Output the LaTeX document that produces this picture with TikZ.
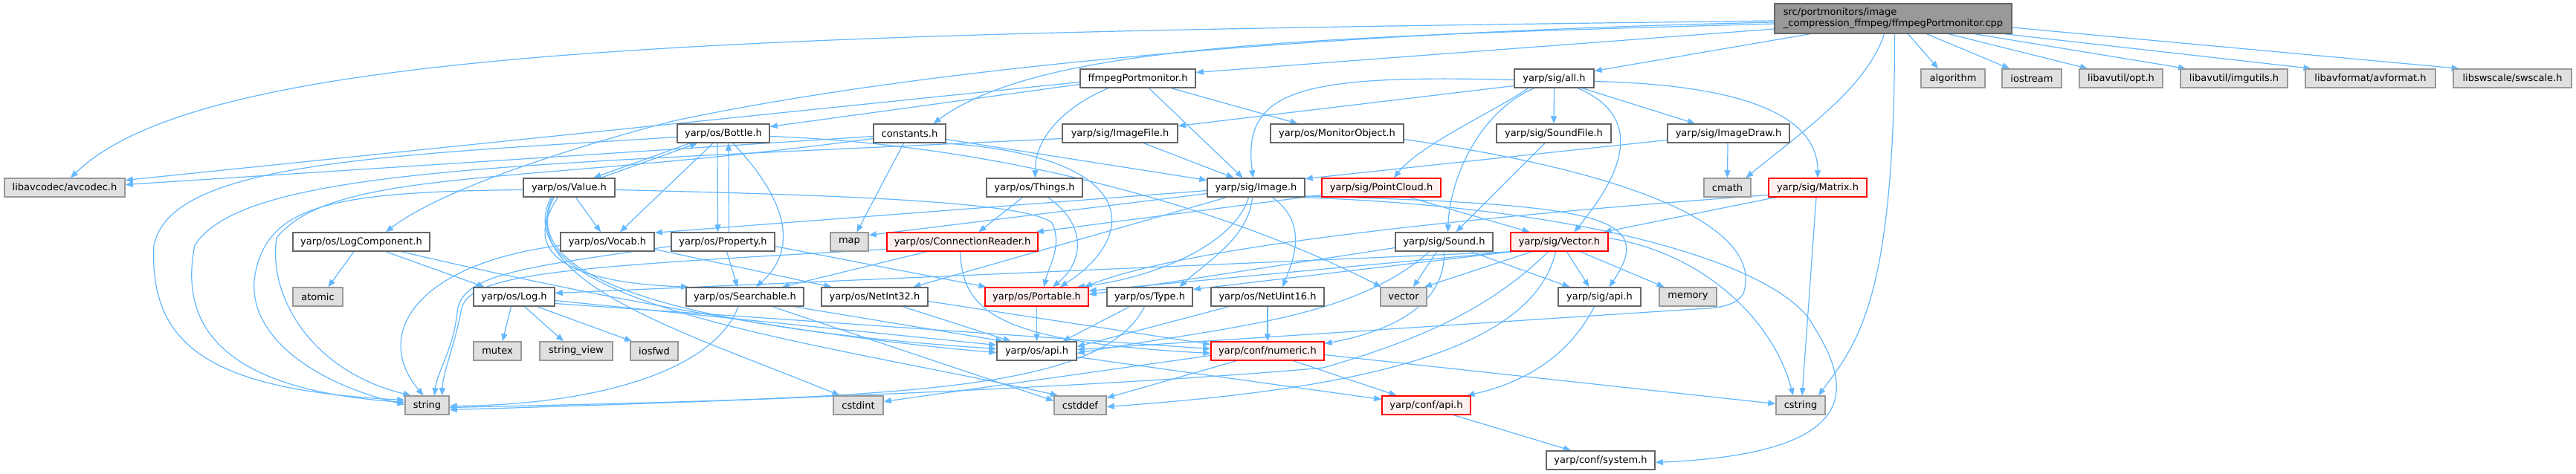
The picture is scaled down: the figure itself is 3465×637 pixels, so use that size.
\documentclass[tikz,border=0pt]{standalone}
\usepackage{fontspec}
\setmainfont{DejaVu Sans}
\usetikzlibrary{arrows.meta}
\definecolor{edgec}{HTML}{63B8FF}
\definecolor{wbord}{HTML}{666666}
\definecolor{gfill}{HTML}{E0E0E0}
\definecolor{gbord}{HTML}{999999}
\definecolor{rfill}{HTML}{FFF0F0}
\definecolor{rbord}{HTML}{FF0000}
\definecolor{mfill}{HTML}{999999}
\pgfdeclarelayer{bg}
\pgfsetlayers{bg,main}
\begin{document}
\begin{tikzpicture}[x=1pt,y=-1pt,
  box/.style={rectangle, line width=1.5pt, minimum height=25pt, inner sep=0pt, font=\fontsize{13}{15}\selectfont},
  wn/.style={box, draw=wbord, fill=white},
  gn/.style={box, draw=gbord, fill=gfill},
  rn/.style={box, draw=rbord, fill=rfill},
  e/.style={draw=edgec, line width=1.2pt, -{Triangle[length=10pt,width=8pt]}}]
\useasboundingbox (0,0) rectangle (3465,637);
% row 1
\node[box, draw=wbord, fill=mfill, minimum width=319pt, minimum height=40pt, align=left] (m) at (2546.5,25) {src/portmonitors/image\\\_compression\_ffmpeg/ffmpegPortmonitor.cpp};
% row 2
\node[wn, minimum width=155pt] (fh) at (1530.5,105.5) {ffmpegPortmonitor.h};
\node[wn, minimum width=107pt] (all) at (2090.5,105.5) {yarp/sig/all.h};
\node[gn, minimum width=86pt] (alg) at (2627,105.5) {algorithm};
\node[gn, minimum width=80pt] (ios) at (2733,105.5) {iostream};
\node[gn, minimum width=112pt] (opt) at (2853,105.5) {libavutil/opt.h};
\node[gn, minimum width=144pt] (imgu) at (3005,105.5) {libavutil/imgutils.h};
\node[gn, minimum width=175pt] (avf) at (3188.5,105.5) {libavformat/avformat.h};
\node[gn, minimum width=159pt] (sws) at (3379.5,105.5) {libswscale/swscale.h};
% row 3
\node[wn, minimum width=124pt] (b) at (973,179.5) {yarp/os/Bottle.h};
\node[wn, minimum width=97pt] (ch) at (1223.5,179.5) {constants.h};
\node[wn, minimum width=155pt] (ifile) at (1506.5,179.5) {yarp/sig/ImageFile.h};
\node[wn, minimum width=179pt] (mo) at (1798.5,179.5) {yarp/os/MonitorObject.h};
\node[wn, minimum width=154pt] (sf) at (2090,179.5) {yarp/sig/SoundFile.h};
\node[wn, minimum width=164pt] (id) at (2325,179.5) {yarp/sig/ImageDraw.h};
% row 4
\node[gn, minimum width=162pt] (avc) at (87,252.5) {libavcodec/avcodec.h};
\node[wn, minimum width=123pt] (v) at (765.5,252.5) {yarp/os/Value.h};
\node[wn, minimum width=129pt] (th) at (1391.5,252.5) {yarp/os/Things.h};
\node[wn, minimum width=131pt] (im) at (1689.5,252.5) {yarp/sig/Image.h};
\node[rn, minimum width=160pt] (pc) at (1858,252.5) {yarp/sig/PointCloud.h};
\node[gn, minimum width=63pt] (cm) at (2323.5,252.5) {cmath};
\node[rn, minimum width=132pt] (ma) at (2445,252.5) {yarp/sig/Matrix.h};
% row 5
\node[wn, minimum width=184pt] (lc) at (486,325.5) {yarp/os/LogComponent.h};
\node[wn, minimum width=126pt] (vo) at (817,325.5) {yarp/os/Vocab.h};
\node[wn, minimum width=139pt] (p) at (972.5,325.5) {yarp/os/Property.h};
\node[gn, minimum width=51pt] (map) at (1142.5,325.5) {map};
\node[rn, minimum width=203pt] (cr) at (1294.5,325.5) {yarp/os/ConnectionReader.h};
\node[wn, minimum width=131pt] (so) at (1942.5,325.5) {yarp/sig/Sound.h};
\node[rn, minimum width=131pt] (ve) at (2097.5,325.5) {yarp/sig/Vector.h};
% row 6
\node[gn, minimum width=67pt] (at) at (427.5,399.5) {atomic};
\node[wn, minimum width=109pt] (lg) at (691.5,399.5) {yarp/os/Log.h};
\node[wn, minimum width=158pt] (s) at (1002,399.5) {yarp/os/Searchable.h};
\node[wn, minimum width=143pt] (n32) at (1176.5,399.5) {yarp/os/NetInt32.h};
\node[rn, minimum width=139pt] (po) at (1394.5,399.5) {yarp/os/Portable.h};
\node[wn, minimum width=115pt] (ty) at (1546.5,399.5) {yarp/os/Type.h};
\node[wn, minimum width=152pt] (u16) at (1705,399.5) {yarp/os/NetUint16.h};
\node[gn, minimum width=62pt] (vec) at (1888,399.5) {vector};
\node[wn, minimum width=111pt] (sa) at (2151.5,399.5) {yarp/sig/api.h};
\node[gn, minimum width=77pt] (mem) at (2270.5,399.5) {memory};
% row 7
\node[gn, minimum width=64pt] (mx) at (669,472.5) {mutex};
\node[gn, minimum width=98pt] (sv) at (775,472.5) {string\_view};
\node[gn, minimum width=64pt] (iof) at (880,472.5) {iosfwd};
\node[wn, minimum width=107pt] (oa) at (1394.5,472.5) {yarp/os/api.h};
\node[rn, minimum width=152pt] (nu) at (1705,472.5) {yarp/conf/numeric.h};
% row 8
\node[gn, minimum width=59pt] (str) at (574.5,545.5) {string};
\node[gn, minimum width=67pt] (ci) at (1154.5,545.5) {cstdint};
\node[gn, minimum width=70pt] (cd) at (1453,545.5) {cstddef};
\node[rn, minimum width=119pt] (ca) at (1918.5,545.5) {yarp/conf/api.h};
\node[gn, minimum width=66pt] (cs) at (2422,545.5) {cstring};
% row 9
\node[wn, minimum width=146pt] (sy) at (2153,619.5) {yarp/conf/system.h};

\begin{pgfonlayer}{bg}
\fill[white] (0,0) rectangle (3465,637);
% main
\draw[e] ([yshift=-14pt]m.west) -- ([yshift=8pt]fh.east);
\draw[e] ([xshift=-112pt]m.south) -- ([yshift=10pt]all.east);
\draw[e] ([xshift=20pt]m.south) -- ([xshift=-20pt]alg.north);
\draw[e] ([xshift=45pt]m.south) -- ([xshift=-30pt]ios.north);
\draw[e] ([xshift=75pt]m.south) -- ([xshift=-45pt]opt.north);
\draw[e] ([xshift=110pt]m.south) -- ([xshift=-65pt]imgu.north);
\draw[e] ([xshift=150pt]m.south) -- ([xshift=-80pt]avf.north);
\draw[e] ([yshift=-12pt]m.east) -- ([xshift=-72pt]sws.north);
\draw[e] ([xshift=-12pt]m.south) .. controls (2510,120) and (2420,180) .. ([xshift=25pt]cm.north);
\draw[e] ([xshift=2pt]m.south) .. controls (2548.5,400) and (2500,460) .. ([xshift=24pt]cs.north);
\draw[e] ([yshift=-3pt]m.west) .. controls (1000,45) and (280,60) .. ([xshift=8pt]avc.north);
\draw[e] ([yshift=-5pt]m.west) .. controls (1700,45) and (1200,100) .. (905,163) .. controls (800,190) and (600,250) .. ([xshift=33pt]lc.north);
\draw[e] ([yshift=-7pt]m.west) .. controls (1750,50) and (1400,60) .. ([xshift=32pt]ch.north);
% ffmpegPortmonitor.h
\draw[e] ([yshift=-8pt]fh.west) -- ([yshift=9pt]b.east);
\draw[e] ([yshift=-5pt]fh.west) -- ([yshift=10pt]avc.east);
\draw[e] ([xshift=-40pt]fh.south) .. controls (1440,140) and (1392,180) .. ([xshift=1pt]th.north);
\draw[e] ([xshift=15pt]fh.south) -- ([xshift=-18pt]im.north);
\draw[e] ([xshift=45pt]fh.south) -- ([xshift=-53pt]mo.north);
% all.h
\draw[e] ([yshift=-10pt]all.west) -- ([yshift=10pt]ifile.east);
\draw[e] ([yshift=-2pt]all.west) .. controls (1750,100) and (1670,120) .. ([xshift=-4pt]im.north);
\draw[e] ([xshift=-35pt]all.south) .. controls (2010,150) and (1910,195) .. ([xshift=17pt]pc.north);
\draw[e] ([xshift=-27pt]all.south) .. controls (1990,150) and (1950,240) .. ([xshift=5pt]so.north);
\draw[e] (all.south) -- (sf.north);
\draw[e] ([xshift=38pt]all.south) -- ([xshift=-45pt]id.north);
\draw[e] ([xshift=32pt]all.south) .. controls (2230,165) and (2160,260) .. ([xshift=20pt]ve.north);
\draw[e] ([yshift=-4pt]all.east) .. controls (2380,115) and (2445,170) .. (ma.north);
% ImageFile
\draw[e] ([xshift=32pt]ifile.south) -- ([xshift=-30pt]im.north);
\draw[e] ([yshift=-7pt]ifile.west) .. controls (700,222) and (330,225) .. (262,330) .. controls (240,440) and (300,525) .. ([yshift=4pt]str.west);
% Bottle
\draw[e] ([xshift=-45pt]b.south) -- ([xshift=33pt]v.north);
\draw[e] ([xshift=-14pt]b.south) -- ([xshift=17pt]vo.north);
\draw[e] ([xshift=-8pt]b.south) -- ([xshift=-7pt]p.north);
\draw[e] ([xshift=13pt]b.south) .. controls (1050,260) and (1080,330) .. ([xshift=15pt]s.north);
\draw[e] ([yshift=-4pt]b.east) .. controls (1350,195) and (1650,280) .. ([xshift=-30pt]vec.north);
\draw[e] ([yshift=-5pt]b.west) .. controls (500,210) and (230,220) .. (207,330) .. controls (200,470) and (290,525) .. ([yshift=7pt]str.west);
% Value
\draw[e] ([xshift=43pt]v.north) -- ([xshift=-35pt]b.south);
\draw[e] ([xshift=9pt]v.south) -- ([xshift=-9pt]vo.north);
\draw[e] ([xshift=-15pt]v.south) .. controls (700,340) and (760,380) .. ([xshift=-76pt]s.north);
\draw[e] ([yshift=-3pt]v.east) .. controls (1100,262) and (1380,270) .. (1415,300) .. controls (1430,330) and (1410,360) .. ([xshift=10pt]po.north);
\draw[e] ([yshift=-3pt]v.west) .. controls (450,258) and (360,275) .. (343,370) .. controls (330,450) and (420,515) .. ([yshift=1pt]str.west);
\draw[e] ([xshift=-20.5pt]v.south) .. controls (690,370) and (900,440) .. ([yshift=3pt]oa.west);
\draw[e] ([xshift=-22.5pt]v.south) .. controls (690,380) and (930,450) .. ([xshift=-25pt]ci.north);
\draw[e] ([xshift=-24.5pt]v.south) .. controls (670,410) and (1100,460) .. ([xshift=-30pt]cd.north);
% Property
\draw[e] ([xshift=8pt]p.north) -- ([xshift=7pt]b.south);
\draw[e] ([xshift=5pt]p.south) -- ([xshift=-10pt]s.north);
\draw[e] ([yshift=-6pt]p.east) -- ([xshift=-68pt]po.north);
\draw[e] ([yshift=-6pt]p.west) .. controls (700,360) and (620,370) .. (615,420) .. controls (610,470) and (588,500) .. ([xshift=10pt]str.north);
% Vocab
\draw[e] ([yshift=-5pt]vo.west) .. controls (560,355) and (500,450) .. ([xshift=-5pt]str.north);
\draw[e] ([yshift=-10pt]vo.east) -- ([xshift=-58pt]n32.north);
% LogComponent
\draw[e] ([xshift=-10pt]lc.south) -- ([xshift=14pt]at.north);
\draw[e] ([xshift=33pt]lc.south) -- ([xshift=-40pt]lg.north);
\draw[e] ([xshift=54pt]lc.south) .. controls (800,400) and (1100,455) .. ([yshift=-2pt]oa.west);
% Log
\draw[e] ([xshift=-4pt]lg.south) -- ([xshift=7pt]mx.north);
\draw[e] ([xshift=14pt]lg.south) -- ([xshift=-17pt]sv.north);
\draw[e] ([xshift=31pt]lg.south) -- ([xshift=-30pt]iof.north);
\draw[e] ([yshift=-5pt]lg.east) -- ([yshift=8pt]oa.west);
\draw[e] ([yshift=-9pt]lg.east) -- ([yshift=3pt]nu.west);
% Searchable
\draw[e] ([xshift=-9pt]s.south) .. controls (960,500) and (800,545) .. ([yshift=-1pt]str.east);
\draw[e] ([xshift=66pt]s.south) -- ([xshift=-45pt]oa.north);
\draw[e] ([xshift=37pt]s.south) -- ([yshift=6pt]cd.west);
% NetInt32
\draw[e] ([xshift=38pt]n32.south) -- ([xshift=-35pt]oa.north);
\draw[e] ([yshift=-6pt]n32.east) -- ([yshift=9pt]nu.west);
% Portable
\draw[e] (po.south) -- (oa.north);
% Type
\draw[e] ([xshift=-27pt]ty.south) -- ([xshift=35pt]oa.north);
\draw[e] ([xshift=-7pt]ty.south) .. controls (1480,530) and (1200,535) .. ([yshift=-3pt]str.east);
% NetUint16
\draw[e] ([xshift=-52pt]u16.south) -- ([yshift=6pt]oa.east);
\draw[e] (u16.south) -- (nu.north);
% ConnectionReader
\draw[e] ([xshift=-48pt]cr.south) -- ([xshift=50pt]s.north);
\draw[e] ([xshift=-3pt]cr.south) .. controls (1295,420) and (1340,460) .. ([yshift=-3pt]nu.west);
\draw[e] ([yshift=-10pt]cr.west) .. controls (750,360) and (625,368) .. (620,420) .. controls (610,470) and (596,500) .. ([xshift=20pt]str.north);
% os/api.h
\draw[e] ([yshift=-8pt]oa.east) -- ([yshift=8pt]ca.west);
% numeric
\draw[e] ([xshift=35pt]nu.south) -- ([xshift=-40pt]ca.north);
\draw[e] ([xshift=-42pt]nu.south) -- ([yshift=10pt]cd.east);
\draw[e] ([yshift=-5pt]nu.east) -- ([yshift=2pt]cs.west);
\draw[e] ([yshift=-6pt]nu.west) -- ([yshift=5pt]ci.east);
% conf/api.h
\draw[e] ([xshift=37pt]ca.south) -- ([xshift=-40pt]sy.north);
% sig/api.h
\draw[e] ([xshift=-7pt]sa.south) .. controls (2110,480) and (2050,515) .. ([xshift=55pt]ca.north);
% Sound
\draw[e] ([xshift=-10pt]so.south) -- ([xshift=13pt]vec.north);
\draw[e] ([xshift=36pt]so.south) -- ([xshift=-40pt]sa.north);
\draw[e] (so.south) .. controls (1945,420) and (1850,450) .. ([yshift=10pt]nu.east);
\draw[e] ([yshift=-8pt]so.west) -- ([yshift=3pt]po.east);
\draw[e] ([xshift=-20pt]so.south) .. controls (1820,430) and (1650,440) .. ([yshift=-3pt]oa.east);
% Vector
\draw[e] ([xshift=-37pt]ve.south) -- ([xshift=28pt]vec.north);
\draw[e] ([xshift=10pt]ve.south) -- ([xshift=-14pt]sa.north);
\draw[e] ([xshift=28pt]ve.south) -- ([xshift=-32pt]mem.north);
\draw[e] ([yshift=5pt]ve.east) .. controls (2290,340) and (2385,430) .. ([xshift=-10pt]cs.north);
\draw[e] ([xshift=2pt]ve.south west) -- ([yshift=5pt]lg.east);
\draw[e] ([xshift=2pt]ve.south west) -- ([yshift=8pt]po.east);
\draw[e] ([xshift=2pt]ve.south west) -- ([yshift=10pt]ty.east);
\draw[e] ([xshift=-15pt]ve.south) .. controls (2000,420) and (1900,460) .. (1780,495) .. controls (1500,520) and (1000,540) .. ([yshift=-6pt]str.east);
\draw[e] ([xshift=-5pt]ve.south) .. controls (2060,480) and (1800,525) .. ([yshift=-2pt]cd.east);
% Image
\draw[e] ([yshift=-4pt]im.west) -- ([yshift=-1pt]vo.north east);
\draw[e] ([yshift=-8pt]im.west) -- ([yshift=9pt]map.east);
\draw[e] ([xshift=-40pt]im.south) -- ([xshift=52pt]n32.north);
\draw[e] ([xshift=-10pt]im.south) .. controls (1660,330) and (1550,375) .. ([xshift=-16pt]po.north east);
\draw[e] ([xshift=-5pt]im.south) .. controls (1680,320) and (1620,355) .. ([xshift=40pt]ty.north);
\draw[e] ([xshift=22pt]im.south) .. controls (1760,300) and (1740,350) .. ([xshift=20pt]u16.north);
\draw[e] ([yshift=-11.5pt]im.east) .. controls (2150,275) and (2230,290) .. ([xshift=13pt]sa.north);
\draw[e] ([xshift=-3pt]im.south east) .. controls (2150,280) and (2400,360) .. (2440,440) .. controls (2490,520) and (2510,610) .. ([yshift=-3pt]sy.east);
% PointCloud
\draw[e] ([xshift=38pt]pc.south) -- ([xshift=-40pt]ve.north);
\draw[e] ([yshift=-10pt]pc.west) -- ([xshift=-3pt]cr.north east);
% Matrix
\draw[e] ([xshift=-57pt]ma.south) -- ([xshift=60pt]ve.north);
\draw[e] ([xshift=-2pt]ma.south) -- ([xshift=2pt]cs.north);
\draw[e] ([yshift=-10pt]ma.west) .. controls (2000,290) and (1600,330) .. ([xshift=-6pt]po.north east);
% Things
\draw[e] ([xshift=-16pt]th.south) -- ([xshift=22pt]cr.north);
\draw[e] ([xshift=18pt]th.south) .. controls (1460,300) and (1460,350) .. ([xshift=21.5pt]po.north);
% constants
\draw[e] ([xshift=-8pt]ch.south) -- ([xshift=10pt]map.north);
\draw[e] ([yshift=-8pt]ch.east) -- ([yshift=10pt]im.west);
\draw[e] ([yshift=-4pt]ch.west) -- ([yshift=4pt]avc.east);
\draw[e] ([xshift=45pt]ch.south) .. controls (1540,210) and (1530,320) .. ([xshift=31.5pt]po.north);
\draw[e] ([yshift=-7pt]ch.west) .. controls (700,250) and (450,225) .. (372,320) .. controls (360,400) and (420,500) .. ([xshift=-22pt]str.north);
% SoundFile, ImageDraw, MonitorObject
\draw[e] ([xshift=-12pt]sf.south) -- ([xshift=16pt]so.north);
\draw[e] ([xshift=-1pt]id.south) -- (cm.north);
\draw[e] ([yshift=-9pt]id.west) -- ([yshift=12pt]im.east);
\draw[e] ([yshift=-8pt]mo.east) .. controls (2250,240) and (2370,320) .. (2345,395) .. controls (2335,412) and (2310,415) .. (2280,416) -- ([yshift=2pt]oa.east);
\end{pgfonlayer}
\end{tikzpicture}
\end{document}
